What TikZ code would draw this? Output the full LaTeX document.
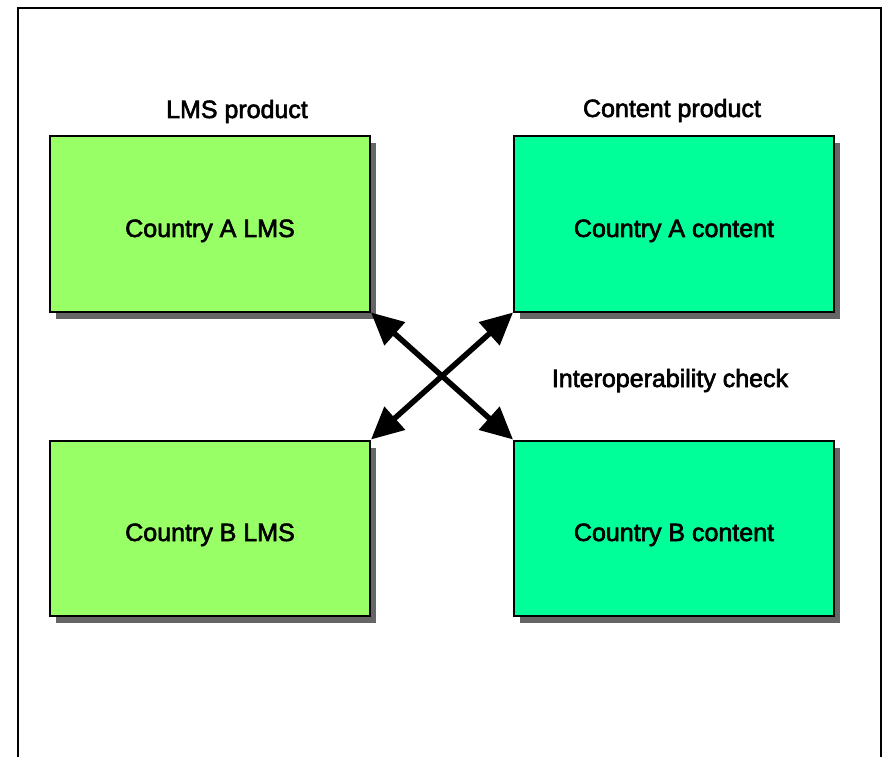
\documentclass[tikz,border=0pt]{standalone}
\usepackage{fontspec}
\setmainfont{Liberation Sans}[RawFeature={embolden=2.5}]
\usetikzlibrary{positioning}
\usetikzlibrary{shadows}
\usetikzlibrary{arrows.meta}

\definecolor{lmsgreen}{HTML}{99FF66}
\definecolor{contentgreen}{HTML}{00FF99}

\begin{document}
\begin{tikzpicture}[x=1pt, y=1pt,
    box/.style={draw, line width=2pt, minimum width=320pt, minimum height=175pt,
        text height=26pt, text depth=0pt, font=\fontsize{25}{30}\selectfont,
        drop shadow={shadow xshift=6pt, shadow yshift=-7pt, fill=black!60, opacity=1}},
    caption/.style={font=\fontsize{25}{30}\selectfont, anchor=base},
    link/.style={{Triangle[length=32pt,width=30pt]}-{Triangle[length=32pt,width=30pt]}, line width=5.5pt}]

        \useasboundingbox (0,0) rectangle (882,756);
        \draw[line width=1.2pt] (18,-10) -- (18,748) -- (881,748) -- (881,-10);

        \node[box, fill=lmsgreen] (lmsA) at (210,532) {Country A LMS};
        \node[box, fill=contentgreen, right=142pt of lmsA] (contentA) {Country A content};
        \node[box, fill=lmsgreen, below=127pt of lmsA] (lmsB) {Country B LMS};
        \node[box, fill=contentgreen, below=127pt of contentA] (contentB) {Country B content};

        \node[caption] (lmsTitle) at (237,638) {LMS product};
        \node[caption] (contentTitle) at (672,639) {Content product};
        \node[caption] (checkTitle) at (670,369) {Interoperability check};

        \draw[link] (lmsA.south east) -- (contentB.north west);
        \draw[link] (contentA.south west) -- (lmsB.north east);

\end{tikzpicture}
\end{document}
